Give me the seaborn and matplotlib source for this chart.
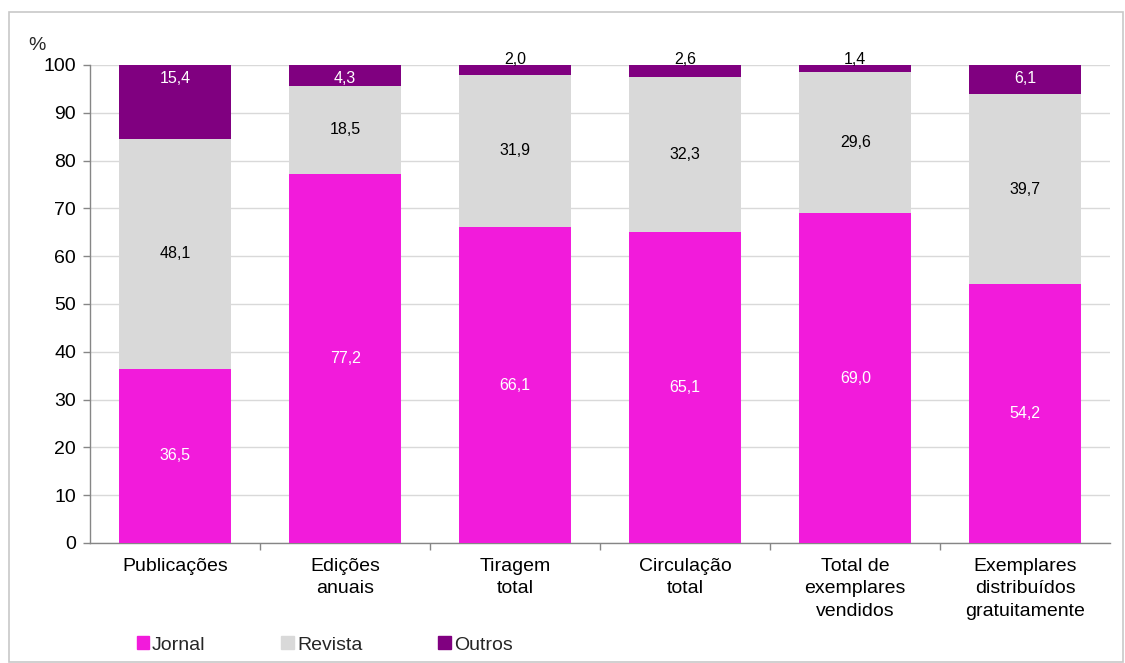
import numpy as np
import pandas as pd
import matplotlib.pyplot as plt
import seaborn as sns
from matplotlib.patches import Patch, Rectangle

# dati
categorie = ["Publicações", "Edições\nanuais", "Tiragem\ntotal", "Circulação\ntotal",
             "Total de\nexemplares\nvendidos", "Exemplares\ndistribuídos\ngratuitamente"]
jornal = [36.5, 77.2, 66.1, 65.1, 69.0, 54.2]
revista = [48.1, 18.5, 31.9, 32.3, 29.6, 39.7]
outros = [15.4, 4.3, 2.0, 2.6, 1.4, 6.1]

c_jornal = "#F21BDB"
c_revista = "#D9D9D9"
c_outros = "#800080"

df = pd.DataFrame({"cat": categorie, "Jornal": jornal, "Revista": revista, "Outros": outros})

sns.set_theme(style="white")
plt.rcParams["font.family"] = ["Liberation Sans", "DejaVu Sans"]

fig = plt.figure(figsize=(11.25, 6.63), dpi=100)
ax = fig.add_axes([0.08, 0.181, 0.907, 0.721])

# bordo esterno
fig.patches.append(Rectangle((9 / 1125, 1 - 662 / 663), 1114 / 1125, 650 / 663,
                             transform=fig.transFigure, fill=False,
                             edgecolor="#C8C8C8", linewidth=1.2))

base2 = np.array(jornal)
base3 = base2 + np.array(revista)
kw = dict(width=0.66, saturation=1, linewidth=0, ax=ax, zorder=3)
sns.barplot(data=df, x="cat", y="Jornal", color=c_jornal, **kw)
sns.barplot(data=df, x="cat", y="Revista", color=c_revista, bottom=base2, **kw)
sns.barplot(data=df, x="cat", y="Outros", color=c_outros, bottom=base3, **kw)

fs_lab = 11.5
fmt = lambda v: f"{v:.1f}".replace(".", ",")
for i in range(len(categorie)):
    ax.text(i, jornal[i] / 2, fmt(jornal[i]), ha="center", va="center",
            color="white", fontsize=fs_lab, zorder=5)
    ax.text(i, base2[i] + revista[i] / 2, fmt(revista[i]), ha="center", va="center",
            color="black", fontsize=fs_lab, zorder=5)
    if outros[i] >= 4:
        ax.text(i, 97.2, fmt(outros[i]), ha="center", va="center",
                color="white", fontsize=fs_lab, zorder=5)
    else:
        ax.text(i, 101.2, fmt(outros[i]), ha="center", va="center",
                color="black", fontsize=fs_lab, zorder=5)

ax.set_ylim(0, 100)
ax.set_xlim(-0.5, 5.5)
ax.set_yticks(range(0, 101, 10))
ax.yaxis.grid(True, color="#D9D9D9", linewidth=1, zorder=0)
ax.set_axisbelow(True)
ax.set_xlabel("")
ax.set_ylabel("")
ax.tick_params(axis="y", labelsize=14, length=5, width=1, color="#868686",
               left=True, pad=5, labelcolor="black")
ax.tick_params(axis="x", labelsize=14, length=0, pad=11, labelcolor="black")
for t in ax.get_xticklabels():
    t.set_linespacing(1.4)
ax.set_xticks(np.arange(0.5, 5.0, 1), minor=True)
ax.tick_params(axis="x", which="minor", length=5, width=1, color="#868686", bottom=True)
for s in ["top", "right"]:
    ax.spines[s].set_visible(False)
for s in ["left", "bottom"]:
    ax.spines[s].set_color("#868686")
    ax.spines[s].set_linewidth(1)

fig.text(37 / 1125, 1 - 45 / 663, "%", fontsize=14, ha="center", va="center")

handles = [Patch(color=c_jornal, label="Jornal"),
           Patch(color=c_revista, label="Revista"),
           Patch(color=c_outros, label="Outros")]
fig.legend(handles=handles, loc="center left", bbox_to_anchor=(119 / 1125, 1 - 645 / 663),
           ncol=3, frameon=False, fontsize=14, handlelength=0.65, handleheight=0.65,
           handletextpad=0.15, columnspacing=3.9)

plt.savefig("out.png", dpi=100)
